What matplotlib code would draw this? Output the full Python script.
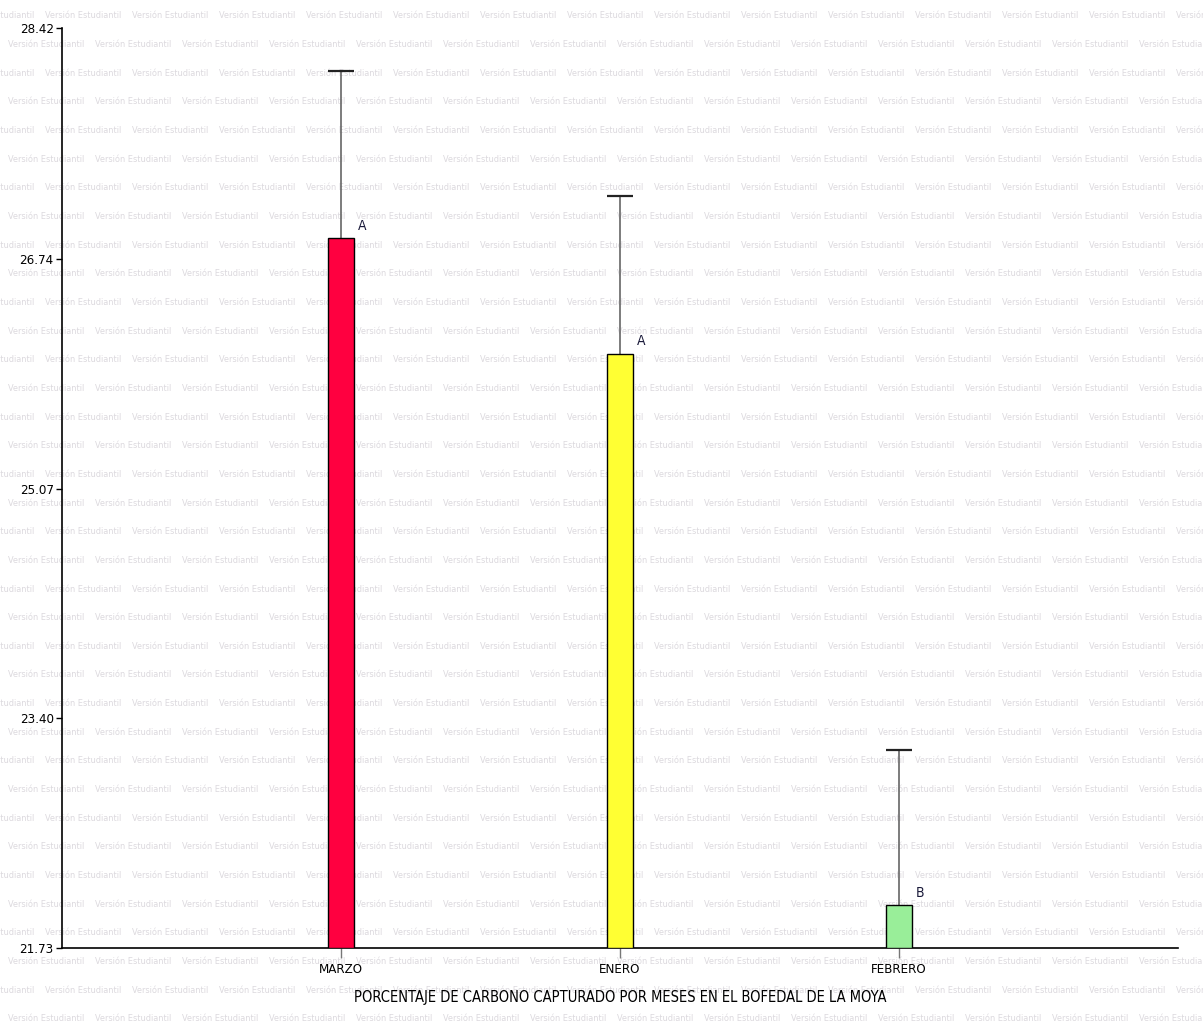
import numpy as np
import matplotlib.pyplot as plt

# carbono capturado por mes (media, limite superior del error y letra de Tukey)
meses = ["MARZO", "ENERO", "FEBRERO"]
medias = [26.89, 26.05, 22.04]
lim_sup = [28.11, 27.20, 23.17]
letras = ["A", "A", "B"]
colores = ["#ff0040", "#ffff33", "#99ee99"]
yticks = [21.73, 23.40, 25.07, 26.74, 28.42]

plt.rcParams["font.family"] = ["DejaVu Sans"]
plt.rcParams["font.stretch"] = "condensed"

fig = plt.figure(figsize=(12.03, 10.27), dpi=100)
W, H = 1203, 1027

# marca de agua de fondo
for i, yy in enumerate(np.arange(16, H + 10, 28.65)):
    x0 = -42 if i % 2 == 0 else 8
    for xx in np.arange(x0, W, 87):
        fig.text(xx / W, 1 - yy / H, "Versión Estudiantil", fontsize=6.6,
                 color="#dcd9de", ha="left", va="center", zorder=-5)

ax = fig.add_axes([62 / W, 1 - 948 / H, (1178 - 62) / W, (948 - 28) / H])
ax.set_zorder(2)
ax.patch.set_visible(False)

x = np.arange(len(meses))
ax.bar(x, np.array(medias) - yticks[0], bottom=yticks[0], width=0.092,
       color=colores, edgecolor="black", linewidth=1.0, zorder=3)
# barra de error solo hacia arriba
ax.vlines(x, medias, lim_sup, color="#666666", linewidth=1.2, zorder=2)
ax.hlines(lim_sup, x - 0.045, x + 0.045, color="#222222", linewidth=1.6, zorder=2)
for xi, m, l in zip(x, medias, letras):
    ax.text(xi + 0.06, m + 0.04, l, fontsize=10, ha="left", va="bottom",
            color="#1a1a3a")

ax.set_xlim(-1.0, 3.0)
ax.set_ylim(yticks[0], yticks[-1])
ax.set_yticks(yticks)
ax.set_yticklabels([f"{v:.2f}" for v in yticks], fontsize=9.5)
ax.set_xticks(x)
ax.set_xticklabels(meses, fontsize=9.5)
ax.tick_params(axis="y", length=4, width=1, pad=2)
ax.tick_params(axis="x", length=7, width=1, color="#777777", pad=4)

for s in ["top", "right"]:
    ax.spines[s].set_visible(False)
ax.spines["left"].set_linewidth(1.2)
ax.spines["bottom"].set_linewidth(1.2)

ax.set_ylabel("P O R C E N T A J E   ( % )   D E   C A R B O N O   C A P T U R A D O",
              fontsize=11, labelpad=14)
ax.set_xlabel("PORCENTAJE DE CARBONO CAPTURADO POR MESES EN EL BOFEDAL DE LA MOYA",
              fontsize=10.5, labelpad=10)

fig.savefig("out.png", dpi=100)
